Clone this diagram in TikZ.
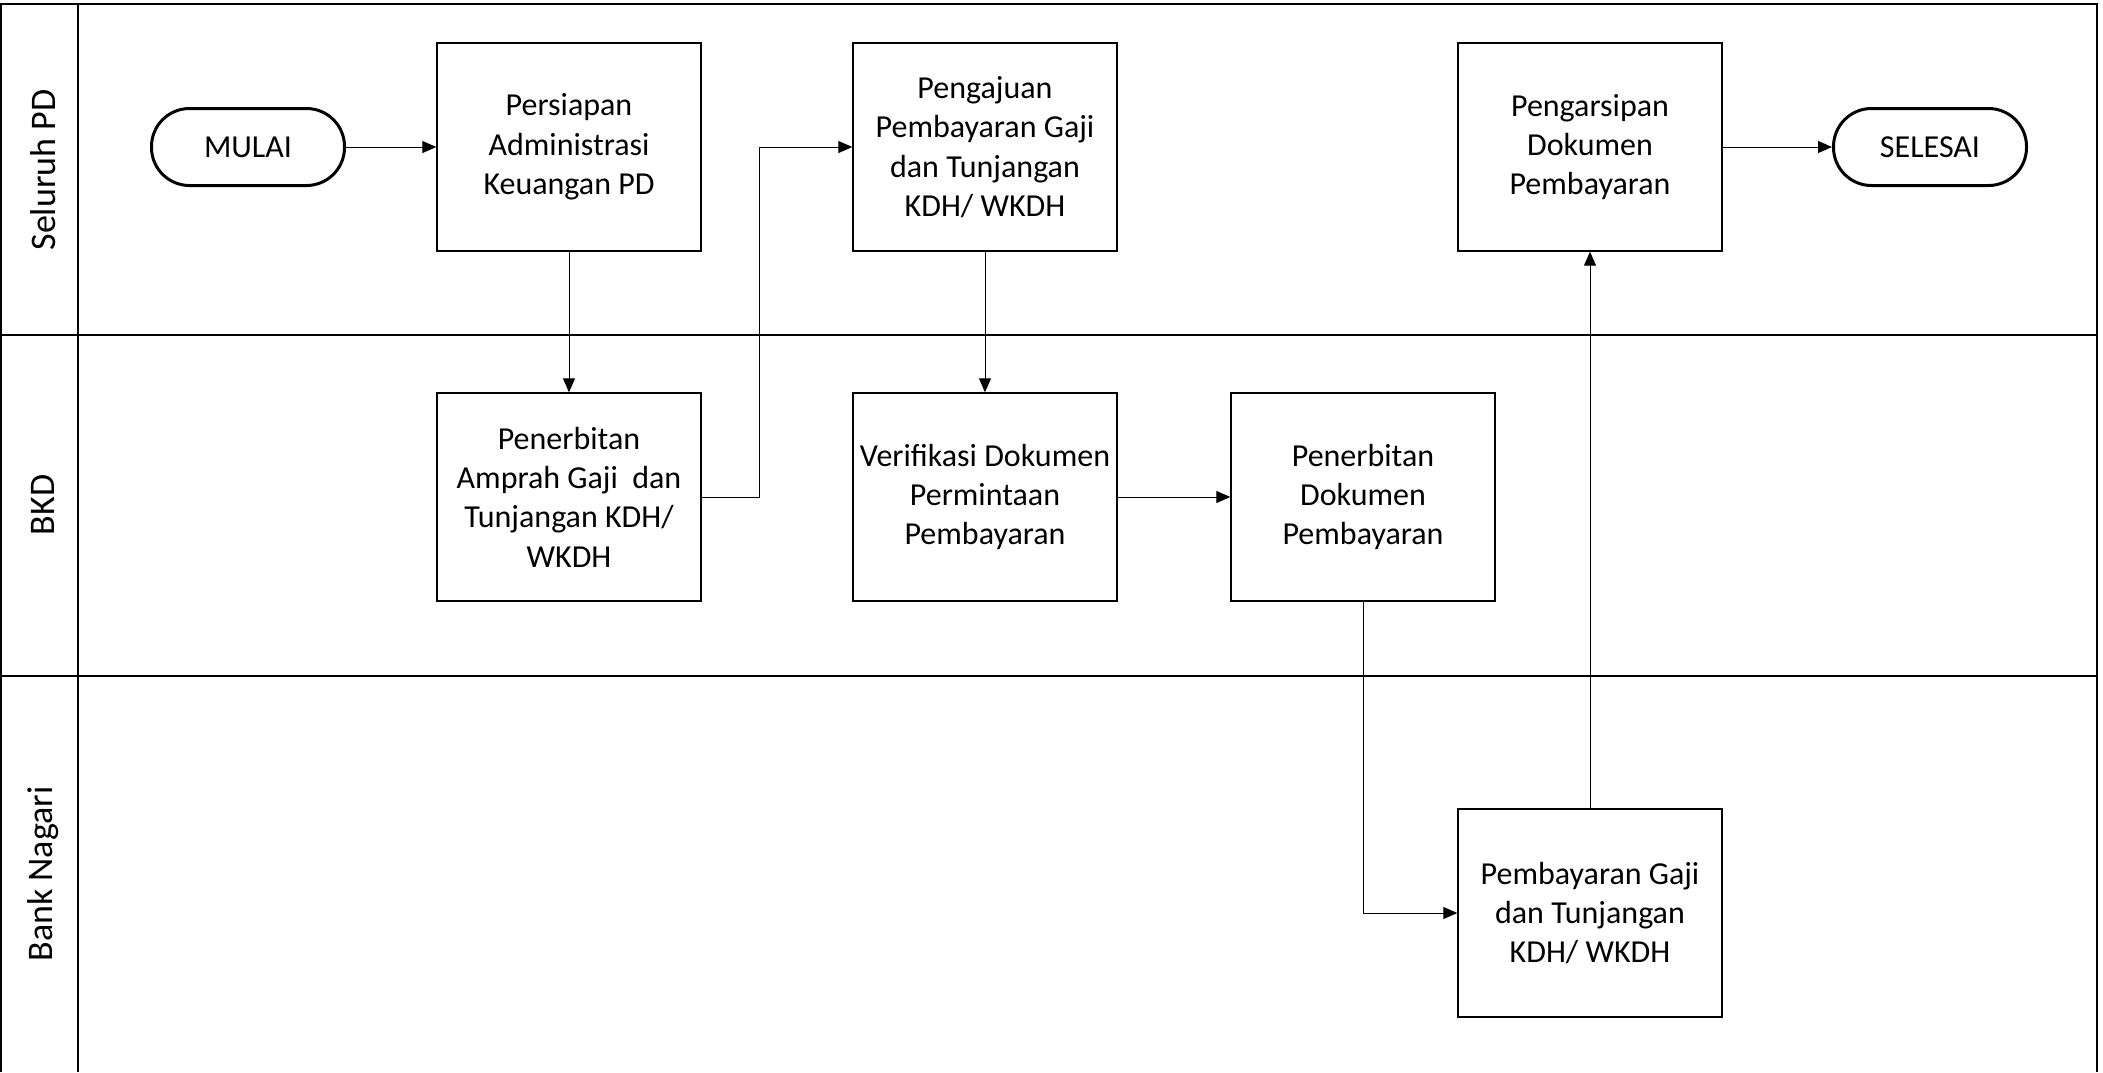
\documentclass[tikz,border=0pt]{standalone}
\usepackage{fontspec}
\setmainfont{Carlito}
\usetikzlibrary{arrows.meta}
\begin{document}
\begin{tikzpicture}[x=0.5pt,y=-0.5pt,
  proc/.style={draw,line width=0.7pt,minimum width=132pt,minimum height=104pt,align=center,inner sep=2pt,font=\fontsize{16}{19.7}\selectfont},
  term/.style={draw,line width=1.5pt,rounded corners=19pt,minimum width=96.5pt,minimum height=38.5pt,font=\fontsize{16}{19.7}\selectfont},
  lane/.style={line width=1.2pt},
  conn/.style={line width=0.5pt,-{Triangle[length=7pt,width=6pt]}},
  lanelabel/.style={rotate=90,font=\fontsize{18}{22}\selectfont}]
\useasboundingbox (0,0) rectangle (2103,1072);
% swimlanes
\draw[lane] (1,1072) -- (1,4) -- (2097,4) -- (2097,1072);
\draw[lane] (78,4) -- (78,1072);
\draw[lane] (1,335) -- (2097,335);
\draw[lane] (1,676) -- (2097,676);
\node[lanelabel] (l1) at (43,170) {Seluruh PD};
\node[lanelabel] (l2) at (43,505) {BKD};
\node[lanelabel] (l3) at (43,874) {Bank Nagari};
% nodes
\node[term] (mulai) at (248,147) {MULAI};
\node[proc] (persiapan) at (569,147) {Persiapan\\Administrasi\\Keuangan PD};
\node[proc] (pengajuan) at (985,147) {Pengajuan\\Pembayaran Gaji\\dan Tunjangan\\KDH/ WKDH};
\node[proc] (pengarsipan) at (1590,147) {Pengarsipan\\Dokumen\\Pembayaran};
\node[term] (selesai) at (1930,147) {SELESAI};
\node[proc] (amprah) at (569,497) {Penerbitan\\Amprah Gaji~ dan\\Tunjangan KDH/\\WKDH};
\node[proc] (verifikasi) at (985,497) {Verifikasi Dokumen\\Permintaan\\Pembayaran};
\node[proc] (penerbitan) at (1363,497) {Penerbitan\\Dokumen\\Pembayaran};
\node[proc] (pembayaran) at (1590,913) {Pembayaran Gaji\\dan Tunjangan\\KDH/ WKDH};
% connectors
\draw[conn] (mulai) -- (persiapan);
\draw[conn] (persiapan) -- (amprah);
\draw[conn] (amprah.east) -- ++(58,0) |- (pengajuan.west);
\draw[conn] (pengajuan) -- (verifikasi);
\draw[conn] (verifikasi) -- (penerbitan);
\draw[conn] (penerbitan.south) |- (pembayaran.west);
\draw[conn] (pembayaran) -- (pengarsipan);
\draw[conn] (pengarsipan) -- (selesai);
\end{tikzpicture}
\end{document}
